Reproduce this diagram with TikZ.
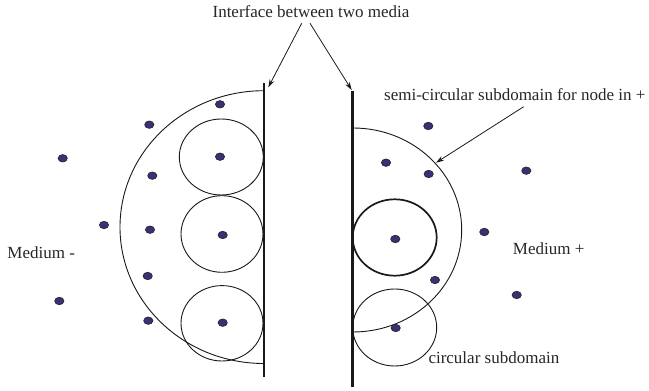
\documentclass[tikz,border=0pt]{standalone}
\usepackage{fontspec}
\setmainfont{Liberation Serif}
\usetikzlibrary{arrows.meta}
\definecolor{dotfill}{RGB}{62,46,118}
\definecolor{dotline}{RGB}{40,38,52}
\tikzset{
  x=1pt, y=1pt,
  thin line/.style={line width=0.9pt, draw=black!90},
  bold circle/.style={line width=1.7pt, draw=black!90},
  interface/.style={line width=2.7pt, draw=black!90},
  pointer/.style={line width=0.8pt, draw=black!90, -{Stealth[length=8pt,width=5pt]}},
  label text/.style={font=\fontsize{17}{20}\selectfont, inner sep=0pt, anchor=base west, text=black!85},
  pt dot/.style={fill=dotfill, draw=dotline, line width=0.7pt}
}
\newcommand{\mydot}[2]{\filldraw[pt dot] (#1,#2) ellipse [x radius=4.6, y radius=3.7];}
\begin{document}
\begin{tikzpicture}
\useasboundingbox (0,0) rectangle (649,391);

% interfaces
\coordinate (LT) at (264,308);
\coordinate (LB) at (264,14.3);
\coordinate (RT) at (352.5,300);
\coordinate (RB) at (352.5,3.7);
\draw[interface] (LT) -- (LB);
\draw[interface] (RT) -- (RB);

% left semicircular subdomain
\draw[thin line] (264,300.3) arc[start angle=90, end angle=270, x radius=144, y radius=136.4];
% left circular subdomains
\draw[thin line] (221.3,234) ellipse [x radius=42, y radius=38];
\draw[thin line] (222,157) ellipse [x radius=41, y radius=38.3];
\draw[thin line] (222,67.7) ellipse [x radius=41, y radius=37.7];

% right semicircular subdomain
\draw[thin line] (353,263) arc[start angle=90, end angle=-90, x radius=108.7, y radius=102];
% right circular subdomains
\draw[bold circle] (394.7,153.5) ellipse [x radius=42, y radius=38.2];
\draw[thin line] (394.7,63.5) ellipse [x radius=42, y radius=38.5];

% nodes (points)
\mydot{220}{286.7}
\mydot{149.3}{266.3}
\mydot{220}{234.3}
\mydot{152.3}{215.3}
\mydot{62.7}{232.7}
\mydot{104}{166}
\mydot{150}{161.3}
\mydot{222.7}{156}
\mydot{147.7}{115}
\mydot{148.3}{70.3}
\mydot{222.7}{68.3}
\mydot{59.3}{90}
\mydot{428.3}{265}
\mydot{386}{228.3}
\mydot{428.7}{217}
\mydot{526.3}{220.3}
\mydot{395.3}{152}
\mydot{484.3}{159}
\mydot{435}{111}
\mydot{516.7}{96}
\mydot{395.7}{63}

% labels
\node[label text, anchor=base] (title) at (311,373) {Interface between two media};
\node[label text] (semi) at (384,290.3) {semi-circular subdomain for node in +};
\node[label text] (mminus) at (7.3,132.7) {Medium -};
\node[label text] (mplus) at (512.7,136) {Medium +};
\node[label text] (circ) at (428.3,27.7) {circular subdomain};

% pointers
\coordinate (a1s) at (301.7,367.7);
\coordinate (a1e) at (268.3,303.7);
\coordinate (a2s) at (310,367.7);
\coordinate (a2e) at (351.7,301);
\coordinate (a3s) at (523.7,284.3);
\coordinate (a3e) at (436,228.3);
\draw[pointer] (a1s) -- (a1e);
\draw[pointer] (a2s) -- (a2e);
\draw[pointer] (a3s) -- (a3e);
\end{tikzpicture}
\end{document}
